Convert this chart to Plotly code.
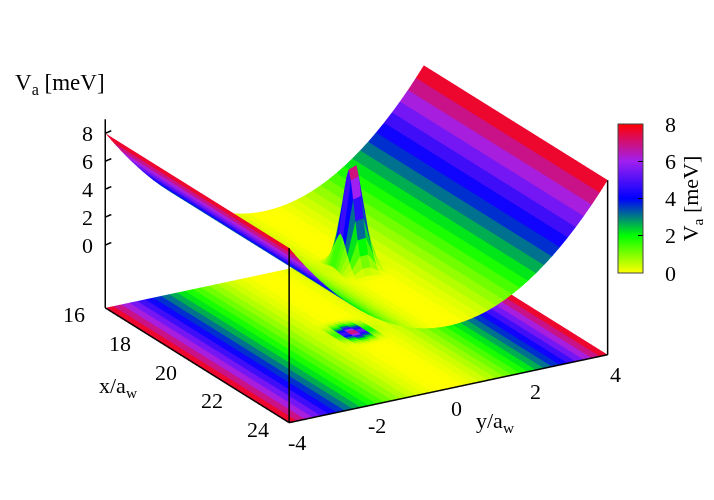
import plotly.graph_objects as go

# grid nodes (stripes give 0.2 in y; finer in x around the peak)
x_nodes = [16.0, 16.2, 16.4, 16.6, 16.8, 17.0, 17.2, 17.4, 17.6, 17.8, 18.0, 18.2, 18.4, 18.6,
           18.8, 19.0, 19.1, 19.2, 19.3, 19.4, 19.5, 19.6, 19.7, 19.8, 19.9, 20.0, 20.1, 20.2,
           20.3, 20.4, 20.5, 20.6, 20.7, 20.8, 21.0, 21.2, 21.4, 21.6, 21.8, 22.0, 22.2, 22.4,
           22.6, 22.8, 23.0, 23.2, 23.4, 23.6, 23.8, 24.0]
y_nodes = [-4.0, -3.8, -3.6, -3.4, -3.2, -3.0, -2.8, -2.6, -2.4, -2.2, -2.0, -1.8, -1.6, -1.4,
           -1.2, -1.0, -0.8, -0.6, -0.4, -0.2, 0.0, 0.2, 0.4, 0.6, 0.8, 1.0, 1.2, 1.4,
           1.6, 1.8, 2.0, 2.2, 2.4, 2.6, 2.8, 3.0, 3.2, 3.4, 3.6, 3.8, 4.0]
# trough profile across y, meV
va_profile = [8.0, 7.22, 6.48, 5.78, 5.12, 4.5, 3.92, 3.38, 2.88, 2.42, 2.0, 1.62, 1.28, 0.98,
              0.72, 0.5, 0.32, 0.18, 0.08, 0.02, 0.0, 0.02, 0.08, 0.18, 0.32, 0.5, 0.72, 0.98,
              1.28, 1.62, 2.0, 2.42, 2.88, 3.38, 3.92, 4.5, 5.12, 5.78, 6.48, 7.22, 8.0]
# the peak, on x 19.2..20.8 and y -0.8..0.6
peak_x_start = 17
peak_y_start = 16
peak = [
    [0.00, 0.00, 0.02, 0.05, 0.05, 0.02, 0.00, 0.00],
    [0.00, 0.01, 0.09, 0.24, 0.25, 0.12, 0.02, 0.00],
    [0.00, 0.03, 0.25, 0.68, 0.70, 0.32, 0.05, 0.00],
    [0.00, 0.06, 0.54, 1.46, 1.50, 0.69, 0.11, 0.01],
    [0.01, 0.10, 0.94, 2.52, 2.60, 1.20, 0.18, 0.01],
    [0.01, 0.16, 1.40, 3.78, 3.90, 1.79, 0.27, 0.02],
    [0.02, 0.22, 1.94, 5.24, 5.40, 2.48, 0.38, 0.03],
    [0.02, 0.27, 2.41, 6.50, 6.70, 3.08, 0.47, 0.03],
    [0.02, 0.30, 2.66, 7.18, 7.40, 3.40, 0.52, 0.04],
    [0.02, 0.27, 2.41, 6.50, 6.70, 3.08, 0.47, 0.03],
    [0.02, 0.22, 1.94, 5.24, 5.40, 2.48, 0.38, 0.03],
    [0.01, 0.16, 1.40, 3.78, 3.90, 1.79, 0.27, 0.02],
    [0.01, 0.10, 0.94, 2.52, 2.60, 1.20, 0.18, 0.01],
    [0.00, 0.06, 0.54, 1.46, 1.50, 0.69, 0.11, 0.01],
    [0.00, 0.03, 0.25, 0.68, 0.70, 0.32, 0.05, 0.00],
    [0.00, 0.01, 0.09, 0.24, 0.25, 0.12, 0.02, 0.00],
    [0.00, 0.00, 0.02, 0.05, 0.05, 0.02, 0.00, 0.00],
]
x_ticks = [16, 18, 20, 22, 24]
y_ticks = [-4, -2, 0, 2, 4]
z_ticks = [0, 2, 4, 6, 8]
z_floor = -4.5
z_top = 9

palette = [[0, "#ffff00"], [0.25, "#00ff00"], [0.5, "#0000ff"], [0.75, "#a020f0"], [1, "#ff0000"]]
FONT = dict(family="Liberation Serif", size=22, color="black")

va = [list(va_profile) for _ in x_nodes]
for a, row in enumerate(peak):
    for b, v in enumerate(row):
        va[peak_x_start + a][peak_y_start + b] += v

nx, ny = len(x_nodes), len(y_nodes)
vx, vy, vz = [], [], []
for a in range(nx):
    for b in range(ny):
        vx.append(x_nodes[a])
        vy.append(y_nodes[b])
        vz.append(va[a][b])
ti, tj, tk, cell = [], [], [], []
for a in range(nx - 1):
    for b in range(ny - 1):
        p = a * ny + b
        q = p + ny
        c = (va[a][b] + va[a + 1][b] + va[a][b + 1] + va[a + 1][b + 1]) / 4
        ti += [p, p]
        tj += [q, q + 1]
        tk += [q + 1, p + 1]
        cell += [c, c]

flat = dict(ambient=1, diffuse=0, specular=0, fresnel=0, roughness=1)


def mesh(z, **kw):
    return go.Mesh3d(x=vx, y=vy, z=z, i=ti, j=tj, k=tk, intensity=cell, intensitymode="cell",
                     colorscale=palette, cmin=0, cmax=8, flatshading=True, lighting=flat,
                     hoverinfo="skip", **kw)


fig = go.Figure()
fig.add_trace(mesh([z_floor] * len(vz), showscale=False))
fig.add_trace(mesh(vz, showscale=True, colorbar=dict(
    x=0.8543, xanchor="left", xpad=0, y=0.619, yanchor="middle", ypad=0,
    lenmode="pixels", len=149, thicknessmode="pixels", thickness=25,
    outlinecolor="#444444", outlinewidth=1, tickmode="array", tickvals=z_ticks,
    ticktext=["\u00a0\u00a0\u00a0" + str(t) for t in z_ticks],
    ticks="inside", ticklen=5, tickcolor="black", tickfont=FONT,
    title=dict(text="V<sub>a</sub> [meV]", side="right", font=FONT))))


def edge(xs, ys, zs):
    fig.add_trace(go.Scatter3d(x=xs, y=ys, z=zs, mode="lines", showlegend=False, hoverinfo="skip",
                               line=dict(color="black", width=3)))


xa, xb = x_nodes[0], x_nodes[-1]
ya, yb = y_nodes[0], y_nodes[-1]
edge([xa, xb, xb], [ya, ya, yb], [z_floor, z_floor, z_floor])
edge([xa, xa], [ya, ya], [z_floor, z_top])
edge([xb, xb], [ya, ya], [z_floor, 8])
edge([xb, xb], [yb, yb], [z_floor, 8])
for t in z_ticks:
    edge([xa, xa], [ya, ya + 0.15], [t, t + 0.09])

notes = []
for t in x_ticks:
    notes.append(dict(x=t, y=ya, z=z_floor, text=str(t), showarrow=False, xshift=-31, yshift=-7, font=FONT))
for t in y_ticks:
    notes.append(dict(x=xb, y=t, z=z_floor, text=str(t), showarrow=False, xshift=8, yshift=-20, font=FONT))
for t in z_ticks:
    notes.append(dict(x=xa, y=ya, z=t, text=str(t), showarrow=False, xshift=-18, font=FONT))

hidden = dict(visible=False, showspikes=False)
titles = [("V<sub>a</sub> [meV]", 52, 76, 23), ("x/a<sub>w</sub>", 110, 379, 22), ("y/a<sub>w</sub>", 487, 414, 22)]
fig.update_layout(
    width=714, height=500, margin=dict(l=0, r=0, t=0, b=0), paper_bgcolor="white",
    showlegend=False,
    scene=dict(
        domain=dict(x=[0, 0.976], y=[0.084, 1]),
        # ranges a little wider than the data so the floor is not clipped
        xaxis=dict(range=[15.9, 24.1], **hidden),
        yaxis=dict(range=[-4.1, 4.1], **hidden),
        zaxis=dict(range=[z_floor - 0.1, z_top + 0.1], **hidden),
        aspectmode="manual", aspectratio=dict(x=1.6306, y=1.6513, z=0.8976),
        camera=dict(projection=dict(type="orthographic"), up=dict(x=0, y=0, z=1),
                    center=dict(x=0, y=0, z=0), eye=dict(x=4.02, y=-2.35, z=1.825)),
        annotations=notes),
    annotations=[dict(text=t, x=px / 714, y=1 - py / 500, xref="paper", yref="paper", xanchor="center",
                      yanchor="middle", showarrow=False, font=dict(FONT, size=fs)) for t, px, py, fs in titles])
fig.write_html("out.html")
